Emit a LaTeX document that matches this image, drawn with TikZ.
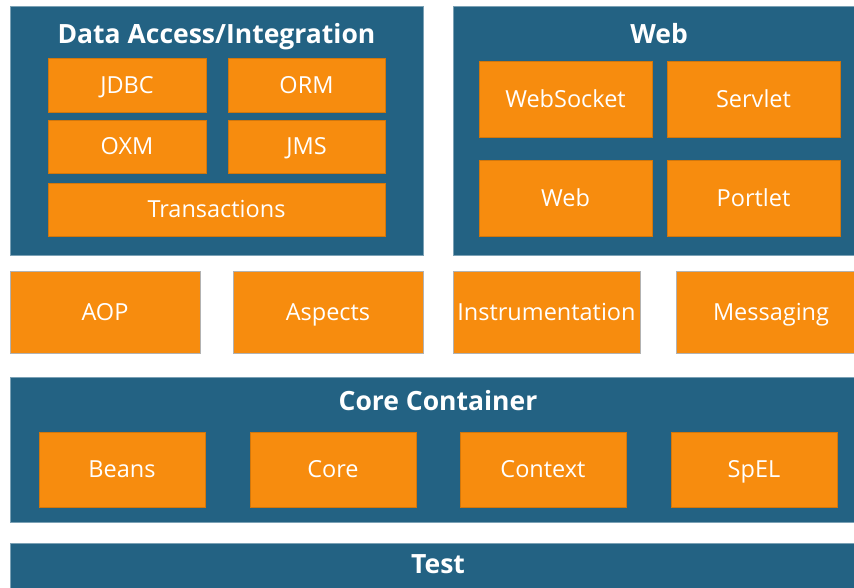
\documentclass[tikz,border=0pt]{standalone}
\usepackage{fontspec}
\setmainfont{Open Sans}
\definecolor{sblue}{HTML}{236283}
\definecolor{sorange}{HTML}{F78C0E}
\tikzset{
  panel/.style={fill=sblue, draw=sblue!60!white, line width=0.6pt},
  mod/.style={fill=sorange, draw=sorange!85!black, line width=0.5pt},
  modmid/.style={fill=sorange, draw=gray!60, line width=0.6pt},
  lbl/.style={text=white, font=\fontsize{23.5}{26}\selectfont, text height=16.8pt, text depth=0pt, inner sep=0pt},
  ttl/.style={text=white, font=\fontsize{26.5}{30}\selectfont\bfseries, text height=19pt, text depth=0pt, inner sep=0pt},
}
\begin{document}
\begin{tikzpicture}[x=1pt,y=-1pt]
\useasboundingbox (0,0) rectangle (854,587);
% Data access panel
\draw[panel] (10,6) rectangle (423,255);
\node[ttl] (datt) at (216.5,34) {Data Access/Integration};
\draw[mod] (48,58) rectangle (206,112) node[midway,lbl] (jdbc) {JDBC};
\draw[mod] (228,58) rectangle (385,112) node[midway,lbl] (orm) {ORM};
\draw[mod] (48,120) rectangle (206,173) node[midway,lbl] (oxm) {OXM};
\draw[mod] (228,120) rectangle (385,173) node[midway,lbl] (jms) {JMS};
\draw[mod] (48,183) rectangle (385,236) node[midway,lbl] (tx) {Transactions};
% Web panel
\draw[panel] (453,6) rectangle (854,255);
\node[ttl] (webt) at (659,34) {Web};
\draw[mod] (479,61) rectangle (652,137) node[midway,lbl] (ws) {WebSocket};
\draw[mod] (667,61) rectangle (840,137) node[midway,lbl] (servlet) {Servlet};
\draw[mod] (479,160) rectangle (652,236) node[midway,lbl] (web) {Web};
\draw[mod] (667,160) rectangle (840,236) node[midway,lbl] (portlet) {Portlet};
% middle row
\draw[modmid] (10,271) rectangle (200,353) node[midway,lbl] (aop) {AOP};
\draw[modmid] (233,271) rectangle (423,353) node[midway,lbl] (asp) {Aspects};
\draw[modmid] (453,271) rectangle (640,353) node[midway,lbl] (inst) {Instrumentation};
\draw[modmid] (676,271) rectangle (866,353) node[midway,lbl] (msg) {Messaging};
% Core container
\draw[panel] (10,377) rectangle (860,522);
\node[ttl] (coret) at (438,401) {Core Container};
\draw[mod] (39,432) rectangle (205,507) node[midway,lbl] (beans) {Beans};
\draw[mod] (250,432) rectangle (416,507) node[midway,lbl] (core) {Core};
\draw[mod] (460,432) rectangle (626,507) node[midway,lbl] (ctx) {Context};
\draw[mod] (671,432) rectangle (837,507) node[midway,lbl] (spel) {SpEL};
% Test
\draw[panel] (10,543) rectangle (860,600);
\node[ttl] (test) at (438,564) {Test};
\end{tikzpicture}
\end{document}
